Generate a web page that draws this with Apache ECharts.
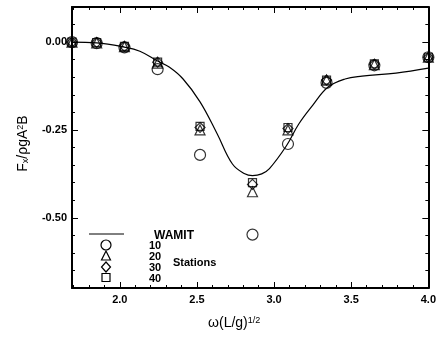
<!DOCTYPE html>
<html>
<head>
<meta charset="utf-8">
<script src="https://cdn.jsdelivr.net/npm/echarts@6/dist/echarts.min.js"></script>
<style>html,body{margin:0;padding:0;background:#fff}#c{width:439px;height:341px}</style>
</head>
<body>
<div id="c"></div>
<script>
// ---- data ----
const wamitX = [1.69, 1.85, 2.03, 2.13, 2.245, 2.32, 2.41, 2.52, 2.63, 2.73, 2.81, 2.86, 2.92, 2.97, 3.08, 3.16, 3.25, 3.35, 3.46, 3.57, 3.79, 4.0];
const wamitY = [0.000, -0.002, -0.014, -0.026, -0.054, -0.071, -0.105, -0.17, -0.26, -0.347, -0.375, -0.38, -0.375, -0.36, -0.295, -0.233, -0.18, -0.128, -0.105, -0.097, -0.088, -0.074];
const stationX = [1.69, 1.85, 2.03, 2.245, 2.52, 2.86, 3.09, 3.34, 3.65, 4.0];
const st10 = [0, -0.003, -0.015, -0.077, -0.321, -0.548, -0.29, -0.116, -0.066, -0.043];
const st20 = [0, -0.002, -0.013, -0.060, -0.250, -0.426, -0.250, -0.108, -0.064, -0.043];
const st30 = [0, -0.001, -0.012, -0.057, -0.243, -0.405, -0.246, -0.108, -0.063, -0.043];
const st40 = [0, -0.001, -0.012, -0.057, -0.240, -0.400, -0.243, -0.108, -0.062, -0.043];
const xMajor = [2.0, 2.5, 3.0, 3.5, 4.0];
const yMajor = [0.00, -0.25, -0.50];
const xMinor = [1.7, 1.8, 1.9, 2.1, 2.2, 2.3, 2.4, 2.6, 2.7, 2.8, 2.9, 3.1, 3.2, 3.3, 3.4, 3.6, 3.7, 3.8, 3.9];
const yMinor = [0.05, -0.05, -0.10, -0.15, -0.20, -0.30, -0.35, -0.40, -0.45, -0.55, -0.60, -0.65];
const legendNames = ['10', '20', '30', '40'];

const X_MIN = 1.69, X_MAX = 4.0, Y_MIN = -0.70, Y_MAX = 0.10;
const FONT = 'Liberation Sans';
const pair = (xs, ys) => xs.map((x, i) => [x, ys[i]]);

const chart = echarts.init(document.getElementById('c'), null, {renderer: 'canvas'});
const lineStyleAxis = {color: '#000', width: 2};
const mkX = (pos, show, ticks, len, labels) => ({
  type: 'value', min: X_MIN, max: X_MAX, position: pos,
  axisLine: {show: show, onZero: false, lineStyle: lineStyleAxis},
  axisTick: {show: true, inside: true, length: len, customValues: ticks, lineStyle: {color: '#000', width: 1}},
  axisLabel: labels ? {show: true, customValues: labels, formatter: v => v.toFixed(1), color: '#000', fontFamily: FONT, fontSize: 11, fontWeight: 'bold', margin: 6} : {show: false},
  splitLine: {show: false}
});
const mkY = (pos, show, ticks, len, labels) => ({
  type: 'value', min: Y_MIN, max: Y_MAX, position: pos,
  axisLine: {show: show, onZero: false, lineStyle: lineStyleAxis},
  axisTick: {show: true, inside: true, length: len, customValues: ticks, lineStyle: {color: '#000', width: 1}},
  axisLabel: labels ? {show: true, customValues: labels, formatter: v => v.toFixed(2), color: '#000', fontFamily: FONT, fontSize: 11, fontWeight: 'bold', margin: 5} : {show: false},
  splitLine: {show: false}
});

const xAxes = [
  Object.assign(mkX('bottom', true, xMajor.slice(0, 4), 6, xMajor), {
    name: '{a|ω(L/g)}{p|1/2}', nameLocation: 'middle', nameGap: 28,
    nameTextStyle: {padding: [0, 32, 0, 0], rich: {a: {fontFamily: FONT, fontSize: 14, color: '#000', verticalAlign: 'bottom'}, p: {fontFamily: FONT, fontSize: 9, color: '#000', verticalAlign: 'top'}}}
  }),
  mkX('bottom', false, xMinor, 3, null),
  mkX('top', true, xMinor, 3, null),
  mkX('top', false, xMajor.slice(0, 4), 6, null)
];
const yAxes = [
  Object.assign(mkY('left', true, yMajor, 6, yMajor), {
    name: '{a|F}{s|x}{a|/ρgA}{p|2}{a|B}', nameLocation: 'middle', nameGap: 42, nameRotate: 90,
    nameTextStyle: {padding: [0, 0, 0, 8], rich: {a: {fontFamily: FONT, fontSize: 14, color: '#000', verticalAlign: 'bottom'}, s: {fontFamily: FONT, fontSize: 9, color: '#000', verticalAlign: 'bottom'}, p: {fontFamily: FONT, fontSize: 9, color: '#000', verticalAlign: 'top'}}}
  }),
  mkY('left', false, yMinor, 3, null),
  mkY('right', true, yMinor, 3, null),
  mkY('right', false, yMajor, 6, null)
];

const symStyle = {color: 'rgba(0,0,0,0)', borderColor: '#000', borderWidth: 1.2};
const sc = (name, data, sym, size) => ({
  name: name, type: 'scatter', data: pair(stationX, data), symbol: sym, symbolSize: size,
  itemStyle: symStyle, clip: false, z: 3
});

chart.setOption({
  animation: false,
  backgroundColor: '#fff',
  grid: {left: 72, right: 8, top: 7, bottom: 53},
  xAxis: xAxes,
  yAxis: yAxes,
  series: [
    {name: 'WAMIT', type: 'line', data: pair(wamitX, wamitY), smooth: 0.4, showSymbol: false,
     lineStyle: {color: '#000', width: 1.2}, clip: false, z: 2},
    sc(legendNames[0], st10, 'circle', 11),
    sc(legendNames[1], st20, 'triangle', 10),
    sc(legendNames[2], st30, 'diamond', 10),
    sc(legendNames[3], st40, 'rect', 8)
  ],
  graphic: [
    {type: 'line', shape: {x1: 89, y1: 234, x2: 124, y2: 234}, style: {stroke: '#000', lineWidth: 1}},
    {type: 'circle', shape: {cx: 106, cy: 245, r: 5}, style: {fill: 'none', stroke: '#000', lineWidth: 1.2}},
    {type: 'polygon', shape: {points: [[106, 251], [101.5, 260], [110.5, 260]]}, style: {fill: 'none', stroke: '#000', lineWidth: 1.2}},
    {type: 'polygon', shape: {points: [[106, 262], [110.5, 267], [106, 272], [101.5, 267]]}, style: {fill: 'none', stroke: '#000', lineWidth: 1.2}},
    {type: 'rect', shape: {x: 102, y: 273.5, width: 8, height: 8}, style: {fill: 'none', stroke: '#000', lineWidth: 1.2}},
    {type: 'text', x: 154, y: 236, style: {text: 'WAMIT', font: 'bold 12px "Liberation Sans"', fill: '#000', textVerticalAlign: 'middle'}},
    {type: 'text', x: 149, y: 246, style: {text: legendNames[0], font: 'bold 11px "Liberation Sans"', fill: '#000', textVerticalAlign: 'middle'}},
    {type: 'text', x: 149, y: 257, style: {text: legendNames[1], font: 'bold 11px "Liberation Sans"', fill: '#000', textVerticalAlign: 'middle'}},
    {type: 'text', x: 149, y: 268, style: {text: legendNames[2], font: 'bold 11px "Liberation Sans"', fill: '#000', textVerticalAlign: 'middle'}},
    {type: 'text', x: 149, y: 279, style: {text: legendNames[3], font: 'bold 11px "Liberation Sans"', fill: '#000', textVerticalAlign: 'middle'}},
    {type: 'text', x: 173, y: 263, style: {text: 'Stations', font: 'bold 11px "Liberation Sans"', fill: '#000', textVerticalAlign: 'middle'}}
  ]
});
</script>
</body>
</html>
